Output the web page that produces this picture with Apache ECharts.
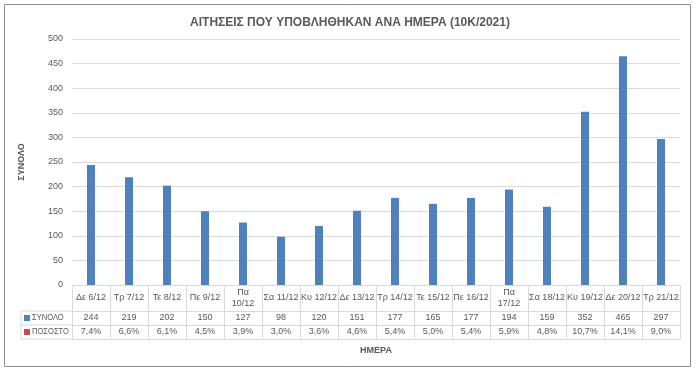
<!DOCTYPE html>
<html>
<head>
<meta charset="utf-8">
<script src="https://cdn.jsdelivr.net/npm/echarts@6/dist/echarts.min.js"></script>
<style>html,body{margin:0;padding:0;background:#fff;}#c{width:700px;height:374px;}</style>
</head>
<body>
<div id="c"></div>
<script>
const categories = ['Δε 6/12','Τρ 7/12','Τε 8/12','Πε 9/12','Πα 10/12','Σα 11/12','Κυ 12/12','Δε 13/12','Τρ 14/12','Τε 15/12','Πε 16/12','Πα 17/12','Σα 18/12','Κυ 19/12','Δε 20/12','Τρ 21/12'];
const tickLabels = ['Δε 6/12','Τρ 7/12','Τε 8/12','Πε 9/12','Πα\n10/12','Σα 11/12','Κυ 12/12','Δε 13/12','Τρ 14/12','Τε 15/12','Πε 16/12','Πα\n17/12','Σα 18/12','Κυ 19/12','Δε 20/12','Τρ 21/12'];
const totals = [244,219,202,150,127,98,120,151,177,165,177,194,159,352,465,297];
const percents = [7.4,6.6,6.1,4.5,3.9,3.0,3.6,4.6,5.4,5.0,5.4,5.9,4.8,10.7,14.1,9.0];
const yTicks = {min:0, max:500, interval:50};

const W = 700, H = 374;
const G = {left:72, right:680, top:39, bottom:285};
const rowCat = 26, rowH = 14;
const tableLeft = 21;
const lineC = '#d9d9d9', textC = '#595959';
const font = 'Liberation Sans';
const barColor = '#4f81bd', redColor = '#c0504d';

const chart = echarts.init(document.getElementById('c'), null, {renderer:'canvas'});
const r1 = G.bottom + rowCat, r2 = r1 + rowH, r3 = r2 + rowH;

const baseAxis = {type:'category', data:categories, position:'bottom', gridIndex:0,
  axisLine:{show:true, lineStyle:{color:lineC}}, axisTick:{show:false}, splitLine:{show:false}};

chart.setOption({
  animation:false,
  title:{text:'ΑΙΤΗΣΕΙΣ ΠΟΥ ΥΠΟΒΛΗΘΗΚΑΝ ΑΝΑ ΗΜΕΡΑ (10K/2021)', left:'center', top:12,
    textStyle:{fontFamily:font, fontSize:12, fontWeight:'bold', color:textC}},
  grid:{left:G.left, right:W-G.right, top:G.top, bottom:H-G.bottom, containLabel:false},
  yAxis:{type:'value', min:yTicks.min, max:yTicks.max, interval:yTicks.interval,
    name:'ΣΥΝΟΛΟ', nameLocation:'middle', nameGap:46,
    nameTextStyle:{fontFamily:font, fontSize:9, fontWeight:'bold', color:textC},
    axisLine:{show:false}, axisTick:{show:false},
    axisLabel:{fontFamily:font, fontSize:9, color:textC, margin:9},
    splitLine:{lineStyle:{color:lineC}}},
  xAxis:[
    Object.assign({}, baseAxis, {
      axisTick:{show:true, interval:0, length:r3-G.bottom, lineStyle:{color:lineC}},
      axisLabel:{interval:0, fontFamily:font, fontSize:9, color:textC, margin:rowCat/2, verticalAlign:'middle', lineHeight:11,
        formatter:(v,i)=>tickLabels[i]}
    }),
    Object.assign({}, baseAxis, {offset:rowCat,
      axisLabel:{interval:0, fontFamily:font, fontSize:9, color:textC, margin:rowH/2, verticalAlign:'middle',
        formatter:(v,i)=>String(totals[i])}}),
    Object.assign({}, baseAxis, {offset:rowCat+rowH,
      axisLabel:{interval:0, fontFamily:font, fontSize:9, color:textC, margin:rowH/2, verticalAlign:'middle',
        formatter:(v,i)=>percents[i].toFixed(1).replace('.',',')+'%'}}),
    Object.assign({}, baseAxis, {offset:rowCat+2*rowH, axisLabel:{show:false},
      name:'ΗΜΕΡΑ', nameLocation:'middle', nameGap:7,
      nameTextStyle:{fontFamily:font, fontSize:9, fontWeight:'bold', color:textC, verticalAlign:'top'}})
  ],
  series:[{type:'bar', name:'ΣΥΝΟΛΟ', data:totals, barWidth:8, itemStyle:{color:barColor}}],
  graphic:[
    {type:'rect', shape:{x:4.5, y:4.5, width:686, height:362}, style:{fill:null, stroke:'#8c8c8c', lineWidth:1}, z:-1},
    {type:'polyline', shape:{points:[[G.left,r1],[tableLeft,r1],[tableLeft,r3],[G.left,r3]]}, style:{fill:null, stroke:lineC, lineWidth:1}},
    {type:'line', shape:{x1:tableLeft, y1:r2, x2:G.left, y2:r2}, style:{stroke:lineC, lineWidth:1}},
    {type:'rect', shape:{x:tableLeft+3, y:r1+rowH/2-3, width:6, height:6}, style:{fill:barColor}},
    {type:'text', x:tableLeft+11, y:r1+rowH/2, scaleX:0.84, style:{text:'ΣΥΝΟΛΟ', fontFamily:font, fontSize:9, fill:textC, verticalAlign:'middle'}},
    {type:'rect', shape:{x:tableLeft+3, y:r2+rowH/2-3, width:6, height:6}, style:{fill:redColor}},
    {type:'text', x:tableLeft+11, y:r2+rowH/2, scaleX:0.84, style:{text:'ΠΟΣΟΣΤΟ', fontFamily:font, fontSize:9, fill:textC, verticalAlign:'middle'}}
  ]
});
</script>
</body>
</html>
